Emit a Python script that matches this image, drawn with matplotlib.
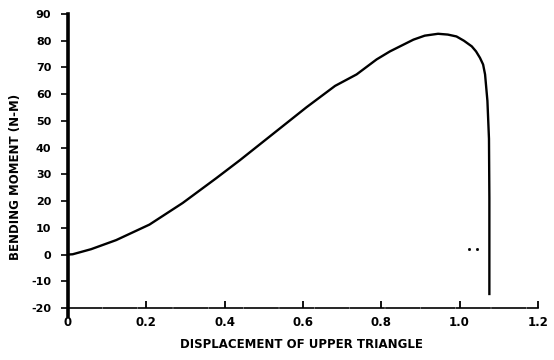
import matplotlib
matplotlib.use("Agg")
import matplotlib.pyplot as plt

# bending moment vs displacement
displacement = [0.0, 0.012, 0.059, 0.123, 0.208, 0.293, 0.378, 0.439, 0.524,
                0.609, 0.682, 0.737, 0.788, 0.822, 0.882, 0.911, 0.945, 0.970,
                0.992, 1.011, 1.031, 1.042, 1.052, 1.060, 1.065, 1.071,
                1.075, 1.076, 1.076]
moment = [0.0, 0.1, 2.0, 5.4, 11.2, 19.3, 28.5, 35.3, 45.2,
          55.1, 63.1, 67.4, 73.0, 76.0, 80.4, 81.9, 82.6, 82.3,
          81.6, 80.0, 77.9, 76.0, 73.6, 71.1, 67.4, 57.5,
          43.3, 21.1, -15.2]

x_ticks = [0, 0.2, 0.4, 0.6, 0.8, 1.0, 1.2]
x_labels = ["0", "0.2", "0.4", "0.6", "0.8", "1.0", "1.2"]
y_ticks = [90, 80, 70, 60, 50, 40, 30, 20, 10, 0, -10, -20]

# two stray specks near the foot of the curve
speck_x = [1.024, 1.044]
speck_y = [2.2, 2.2]

font = {"family": "DejaVu Sans", "weight": "bold"}

fig = plt.figure(figsize=(5.54, 3.6), dpi=100)
ax = fig.add_axes([0.1227, 0.1222, 0.8483, 0.8389])

ax.plot(displacement, moment, color="black", lw=1.7,
        solid_joinstyle="round", solid_capstyle="butt")
ax.plot(speck_x, speck_y, ls="none", marker="s", ms=1.0, color="black")

ax.set_xlim(0, 1.2)
ax.set_ylim(-23, 90)

ax.spines["top"].set_visible(False)
ax.spines["right"].set_visible(False)
ax.spines["bottom"].set_position(("data", -20))
ax.spines["left"].set_linewidth(2.6)
ax.spines["bottom"].set_linewidth(1.2)
ax.spines["bottom"].set_linestyle((0, (20, 1.2)))

ax.set_xticks(x_ticks)
ax.set_xticklabels(x_labels, fontdict=font, fontsize=8.5)
ax.set_yticks(y_ticks)
ax.set_yticklabels([str(v) for v in y_ticks], fontdict=font, fontsize=8)

ax.tick_params(axis="x", direction="in", length=5, width=1.3, pad=6)
ax.tick_params(axis="y", direction="out", length=5, width=1.2, pad=7)

ax.set_xlabel("DISPLACEMENT OF UPPER TRIANGLE", fontdict=font, fontsize=8.5)
ax.set_ylabel("BENDING MOMENT (N-M)", fontdict=font, fontsize=8.5)
ax.xaxis.set_label_coords(0.496, -0.073)
ax.yaxis.set_label_coords(-0.098, 0.46)

fig.savefig("out.png", dpi=100)
